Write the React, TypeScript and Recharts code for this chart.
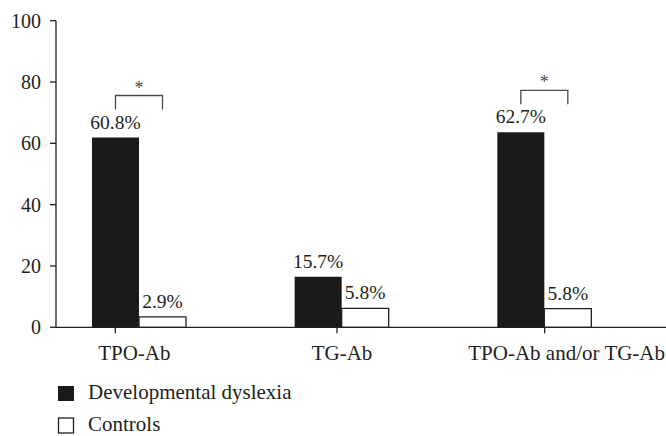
import React from 'react';
import { BarChart, Bar, XAxis, YAxis, LabelList } from 'recharts';

const categories = ['TPO-Ab', 'TG-Ab', 'TPO-Ab and/or TG-Ab'];
// bar heights as drawn in the figure
const dyslexia = [61.9, 16.5, 63.6];
const controls = [3.4, 6.2, 6.1];
// printed percentages
const dyslexiaLabels = ['60.8%', '15.7%', '62.7%'];
const controlsLabels = ['2.9%', '5.8%', '5.8%'];
const significant = [true, false, true];
const yTicks = [0, 20, 40, 60, 80, 100];
const seriesNames = ['Developmental dyslexia', 'Controls'];

const data = categories.map((name, i) => ({
  name,
  dyslexia: dyslexia[i],
  controls: controls[i],
  dLabel: dyslexiaLabels[i],
  cLabel: controlsLabels[i],
}));

const FONT = "Liberation Serif, DejaVu Serif, serif";
const INK = '#231f20';
const DARK = '#1a1a1a';

function ControlsLabel(props: any) {
  const { x, y, width, value } = props;
  return (
    <text x={Number(x) + Number(width) / 2} y={Number(y) - 9} textAnchor="middle"
      fontFamily={FONT} fontSize={19.5} fill={INK}>{value}</text>
  );
}

function DyslexiaLabel(props: any) {
  const { x, y, width, value, index } = props;
  const w = Number(width);
  const cx = Number(x) + w / 2;
  const top = Number(y);
  return (
    <g>
      <text x={cx} y={top - 9} textAnchor="middle" fontFamily={FONT} fontSize={19.5} fill={INK}>{value}</text>
      {significant[index] && (
        <g>
          <path d={`M${cx},${top - 28} V${top - 42} H${cx + w} V${top - 28}`}
            stroke="#4a4a4a" strokeWidth={1.3} fill="none" />
          <text x={cx + w / 2} y={top - 44} textAnchor="middle" fontFamily={FONT}
            fontSize={18} fill="#4a4a4a">*</text>
        </g>
      )}
    </g>
  );
}

// small per-category nudges to mimic the original figure's tick placement
const tickShift = [-24, -5, 0];
const textShift = [-5, 0, 22];

function XTick(props: any) {
  const { x, y, payload, index } = props;
  return (
    <g>
      <line x1={x + tickShift[index]} x2={x + tickShift[index]} y1={y} y2={y + 6} stroke={INK} strokeWidth={1.3} />
      <text x={x + textShift[index]} y={y + 33} textAnchor="middle" fontFamily={FONT}
        fontSize={21} fill={INK}>{payload.value}</text>
    </g>
  );
}

export default function App() {
  return (
    <div style={{ position: 'absolute', left: 0, top: 0, width: 666, height: 436, background: '#fff', fontFamily: FONT }}>
      <BarChart width={666} height={436} data={data} barGap={0} barSize={47}
        margin={{ top: 20.7, right: 0, left: 0, bottom: 78.7 }}>
        <XAxis dataKey="name" height={30} padding={{ left: -18, right: 20 }}
          stroke={INK} strokeWidth={1.3} tickLine={false} tickSize={0} tickMargin={0}
          tick={<XTick />} interval={0} />
        <YAxis domain={[0, 100]} ticks={yTicks} width={56} tickSize={6} tickMargin={9}
          stroke={INK} strokeWidth={1.3}
          tick={{ fontSize: 20, fill: INK, fontFamily: FONT }} />
        <Bar dataKey="dyslexia" fill={DARK} isAnimationActive={false}>
          <LabelList dataKey="dLabel" content={<DyslexiaLabel />} />
        </Bar>
        <Bar dataKey="controls" fill="#fff" stroke={INK} strokeWidth={1.3} isAnimationActive={false}>
          <LabelList dataKey="cLabel" content={<ControlsLabel />} />
        </Bar>
      </BarChart>
      <svg width={666} height={436} style={{ position: 'absolute', left: 0, top: 0, pointerEvents: 'none' }}>
        <rect x={58} y={386} width={16} height={15} fill={DARK} />
        <text x={88} y={399} fontFamily={FONT} fontSize={21} fill={INK}>{seriesNames[0]}</text>
        <rect x={58.5} y={418} width={15} height={15} fill="#fff" stroke={INK} strokeWidth={1.3} />
        <text x={88} y={431} fontFamily={FONT} fontSize={21} fill={INK}>{seriesNames[1]}</text>
      </svg>
    </div>
  );
}
